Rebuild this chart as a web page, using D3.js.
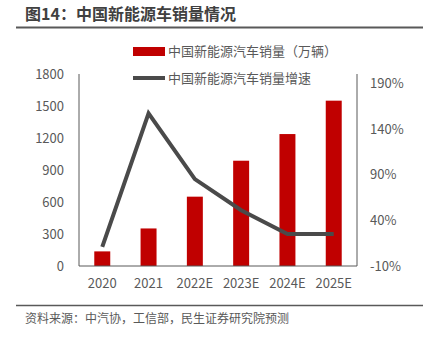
<!DOCTYPE html>
<html><head><meta charset="utf-8">
<script src="https://cdn.jsdelivr.net/npm/d3@7/dist/d3.min.js"></script>
<style>
body{margin:0;background:#fff;}
svg{display:block;font-family:"Noto Sans CJK SC","Noto Sans",sans-serif;}
</style></head>
<body><svg id="c" width="430" height="340"></svg>
<script>
const categories = ["2020","2021","2022E","2023E","2024E","2025E"];
const sales = [137, 352, 650, 987, 1237, 1550];
const growth = [11, 157, 85, 51, 25, 25];
const leftTicks = [0,300,600,900,1200,1500,1800];
const rightTicks = [-10,40,90,140,190];
const title = "图14：中国新能源车销量情况";
const source = "资料来源：中汽协，工信部，民生证券研究院预测";
const legendNames = ["中国新能源汽车销量（万辆）","中国新能源汽车销量增速"];

const svg = d3.select("#c");
const L=79, R=357, T=74, B=266;
const x = d3.scaleBand().domain(categories).range([L,R]).paddingInner(0.655).paddingOuter(0.33);
const yL = d3.scaleLinear().domain([0,1800]).range([B,T]);
const yR = d3.scaleLinear().domain([-10,200]).range([B,T]);
const txt="#595959";

svg.append("text").attr("x",25).attr("y",20).attr("font-size",16).attr("font-weight","bold").attr("fill","#404040").text(title);
svg.append("line").attr("x1",16).attr("x2",423).attr("y1",27.5).attr("y2",27.5).attr("stroke","#595959").attr("stroke-width",2);
svg.append("line").attr("x1",16).attr("x2",423).attr("y1",305.5).attr("y2",305.5).attr("stroke","#595959").attr("stroke-width",1.5);
svg.append("text").attr("x",25).attr("y",323).attr("font-size",12).attr("fill",txt).text(source);

// legend
svg.append("rect").attr("x",133).attr("y",47).attr("width",32).attr("height",9).attr("fill","#C00000");
svg.append("text").attr("x",168).attr("y",56).attr("font-size",13).attr("fill",txt).text(legendNames[0]);
svg.append("line").attr("x1",133).attr("x2",165).attr("y1",78).attr("y2",78).attr("stroke","#4a4a4a").attr("stroke-width",4);
svg.append("text").attr("x",168).attr("y",83).attr("font-size",13).attr("fill",txt).text(legendNames[1]);

// bars
svg.selectAll("rect.bar").data(sales).enter().append("rect").attr("class","bar")
  .attr("x",(d,i)=>x(categories[i])).attr("width",x.bandwidth())
  .attr("y",d=>yL(d)).attr("height",d=>B-yL(d)).attr("fill","#C00000");

// axes
const gl = svg.append("g").attr("transform",`translate(${L},0)`)
  .call(d3.axisLeft(yL).tickValues(leftTicks).tickSize(0).tickPadding(15).tickFormat(d3.format("d")));
const gr = svg.append("g").attr("transform",`translate(${R},0)`)
  .call(d3.axisRight(yR).tickValues(rightTicks).tickSize(0).tickPadding(13).tickFormat(d=>d+"%"));
const gb = svg.append("g").attr("transform",`translate(0,${B})`)
  .call(d3.axisBottom(x).tickSize(0).tickPadding(13));
[gl,gr,gb].forEach(g=>{
  g.select(".domain").attr("stroke","#595959").attr("stroke-width",1);
  g.selectAll("text").attr("font-size",13).attr("fill",txt).attr("font-family","\"Noto Sans CJK SC\",sans-serif");
});
gl.select(".domain").attr("d",`M0,${T}V${B}`);
gr.select(".domain").attr("d",`M0,${T}V${B}`);
gb.select(".domain").attr("d",`M${L},0H${R}`);

// line
const line = d3.line().x((d,i)=>x(categories[i])+x.bandwidth()/2).y(d=>yR(d));
svg.append("path").datum(growth).attr("d",line).attr("fill","none")
  .attr("stroke","#4a4a4a").attr("stroke-width",4).attr("stroke-linejoin","miter");
</script></body></html>
